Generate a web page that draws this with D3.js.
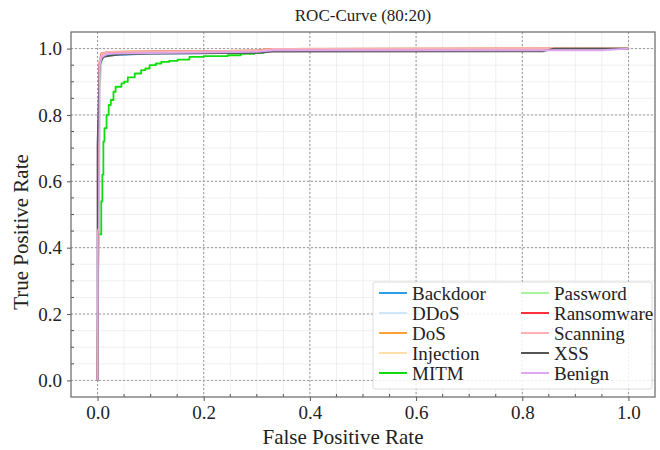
<!DOCTYPE html>
<html>
<head>
<meta charset="utf-8">
<script src="https://cdn.jsdelivr.net/npm/d3@7"></script>
<style>
  html, body { margin: 0; padding: 0; background: #fff; }
</style>
</head>
<body>
<svg id="chart" width="660" height="450"></svg>
<script>
// ---- data ----
const classNames = ["Backdoor", "DDoS", "DoS", "Injection", "MITM", "Password", "Ransomware", "Scanning", "XSS", "Benign"];
const classColors = ["#2d9ee8", "#cfe6fa", "#ffa033", "#ffe0a8", "#10dd10", "#a8f5a0", "#ff3040", "#ffb0b0", "#555555", "#dda8f0"];

const rocBackdoor = [[0,0],[0.003,0.9],[0.006,0.96],[0.012,0.975],[0.02,0.98],[0.1,0.985],[0.31,0.987],[0.32,0.997],[1,1]];
const rocDDoS = [[0,0],[0.003,0.93],[0.006,0.97],[0.015,0.985],[0.1,0.99],[0.3,0.993],[0.33,0.999],[1,1]];
const rocDoS = [[0,0],[0.003,0.94],[0.008,0.98],[0.02,0.99],[0.3,0.994],[0.32,0.999],[1,1]];
const rocInjection = [[0,0],[0.003,0.92],[0.008,0.975],[0.02,0.99],[0.3,0.994],[0.35,0.998],[0.65,1],[1,1]];
const rocMITM = [[0,0],[0.001,0.44],[0.007,0.54],[0.009,0.62],[0.011,0.72],[0.013,0.76],[0.017,0.8],[0.021,0.83],[0.025,0.845],[0.03,0.87],[0.034,0.885],[0.045,0.895],[0.05,0.9],[0.057,0.913],[0.07,0.925],[0.082,0.935],[0.09,0.94],[0.098,0.95],[0.11,0.955],[0.12,0.96],[0.135,0.963],[0.151,0.967],[0.173,0.975],[0.2,0.977],[0.245,0.98],[0.27,0.984],[0.295,0.987],[0.313,0.995],[0.5,0.999],[1,1]];
const rocPassword = [[0,0],[0.004,0.88],[0.008,0.97],[0.02,0.99],[0.3,0.994],[0.33,0.999],[1,1]];
const rocRansomware = [[0,0],[0.003,0.95],[0.007,0.985],[0.02,0.99],[0.3,0.994],[0.33,0.999],[1,1]];
const rocScanning = [[0,0],[0.003,0.96],[0.008,0.985],[0.02,0.99],[0.3,0.994],[0.33,0.999],[1,1]];
const rocXSS = [[0,0],[0,0.71],[0.004,0.95],[0.01,0.975],[0.045,0.983],[0.1,0.985],[0.3,0.987],[0.33,0.991],[0.84,0.992],[0.86,1],[1,1]];
const rocBenign = [[0,0],[0,0.45],[0.003,0.46],[0.004,0.95],[0.008,0.975],[0.02,0.985],[0.3,0.99],[0.33,0.995],[0.95,0.995],[1,1]];
const rocSeries = [rocBackdoor, rocDDoS, rocDoS, rocInjection, rocMITM, rocPassword, rocRansomware, rocScanning, rocXSS, rocBenign];

const majorTicks = [0.0, 0.2, 0.4, 0.6, 0.8, 1.0];
const minorTicks = d3.range(0, 21).map(i => i * 0.05);
const titleText = "ROC-Curve (80:20)";
const xLabel = "False Positive Rate";
const yLabel = "True Positive Rate";

// ---- drawing ----
const SERIF = "'Liberation Serif', 'Times New Roman', 'DejaVu Serif', serif";
const svg = d3.select("#chart");
const pL = 71, pR = 655, pT = 32, pB = 397;
const x = d3.scaleLinear().domain([-0.05, 1.05]).range([pL, pR]);
const y = d3.scaleLinear().domain([-0.05, 1.05]).range([pB, pT]);

// minor grid
const grid = svg.append("g");
grid.append("g").selectAll("line").data(minorTicks).join("line")
  .attr("x1", d => x(d)).attr("x2", d => x(d)).attr("y1", pT).attr("y2", pB)
  .attr("stroke", "#ececec").attr("stroke-width", 0.8);
grid.append("g").selectAll("line").data(minorTicks).join("line")
  .attr("y1", d => y(d)).attr("y2", d => y(d)).attr("x1", pL).attr("x2", pR)
  .attr("stroke", "#ececec").attr("stroke-width", 0.8);
// major grid
grid.append("g").selectAll("line").data(majorTicks).join("line")
  .attr("x1", d => x(d)).attr("x2", d => x(d)).attr("y1", pT).attr("y2", pB)
  .attr("stroke", "#999").attr("stroke-width", 1).attr("stroke-dasharray", "2,2");
grid.append("g").selectAll("line").data(majorTicks).join("line")
  .attr("y1", d => y(d)).attr("y2", d => y(d)).attr("x1", pL).attr("x2", pR)
  .attr("stroke", "#999").attr("stroke-width", 1).attr("stroke-dasharray", "2,2");

// curves
const line = d3.line().x(d => x(d[0])).y(d => y(d[1]));
const lineStep = d3.line().x(d => x(d[0])).y(d => y(d[1])).curve(d3.curveStepAfter);
svg.append("g").selectAll("path").data(rocSeries).join("path")
  .attr("d", (d, i) => classNames[i] === "MITM" ? lineStep(d) : line(d))
  .attr("fill", "none")
  .attr("stroke", (d, i) => classColors[i])
  .attr("stroke-width", 1.8)
  .attr("stroke-linejoin", "round");

// axes
const xAxis = d3.axisBottom(x).tickValues(majorTicks).tickFormat(d3.format(".1f")).tickSize(4).tickPadding(5);
const yAxis = d3.axisLeft(y).tickValues(majorTicks).tickFormat(d3.format(".1f")).tickSize(4).tickPadding(5);
const gx = svg.append("g").attr("transform", `translate(0,${pB})`).call(xAxis);
const gy = svg.append("g").attr("transform", `translate(${pL},0)`).call(yAxis);
[gx, gy].forEach(g => {
  g.attr("font-family", SERIF).attr("font-size", 19);
  g.select(".domain").remove();
  g.selectAll("line").attr("stroke", "#555");
  g.selectAll("text").attr("fill", "#222");
});
// minor ticks inward
const minorOnly = minorTicks.filter(d => Math.round(d * 100) % 20 !== 0);
svg.append("g").selectAll("line").data(minorOnly).join("line")
  .attr("x1", d => x(d)).attr("x2", d => x(d)).attr("y1", pB).attr("y2", pB - 3)
  .attr("stroke", "#555");
svg.append("g").selectAll("line").data(minorOnly).join("line")
  .attr("y1", d => y(d)).attr("y2", d => y(d)).attr("x1", pL).attr("x2", pL + 3)
  .attr("stroke", "#555");
// frame
svg.append("rect").attr("x", pL).attr("y", pT).attr("width", pR - pL).attr("height", pB - pT)
  .attr("fill", "none").attr("stroke", "#666").attr("stroke-width", 1.2);

// title & labels
const txt = svg.append("g").attr("font-family", SERIF).attr("fill", "#222");
txt.append("text").attr("x", (pL + pR) / 2).attr("y", 21).attr("text-anchor", "middle")
  .attr("font-size", 17).text(titleText);
txt.append("text").attr("x", 343).attr("y", 444).attr("text-anchor", "middle")
  .attr("font-size", 21).text(xLabel);
txt.append("text").attr("transform", `translate(28,232) rotate(-90)`).attr("text-anchor", "middle")
  .attr("font-size", 21).text(yLabel);

// legend
const lg = svg.append("g").attr("font-family", SERIF);
lg.append("rect").attr("x", 373).attr("y", 282).attr("width", 279).attr("height", 107).attr("rx", 2)
  .attr("fill", "#fff").attr("fill-opacity", 0.85).attr("stroke", "#dcdcdc").attr("stroke-width", 1);
const items = lg.selectAll("g.item").data(classNames).join("g")
  .attr("transform", (d, i) => `translate(${i < 5 ? 379 : 521},${293 + (i % 5) * 20})`);
items.append("line").attr("x1", 0).attr("x2", 28).attr("y1", 0).attr("y2", 0)
  .attr("stroke", (d, i) => classColors[i]).attr("stroke-width", 2);
items.append("text").attr("x", 33).attr("y", 6.5).attr("font-size", 19).attr("fill", "#222").text(d => d);
</script>
</body>
</html>
